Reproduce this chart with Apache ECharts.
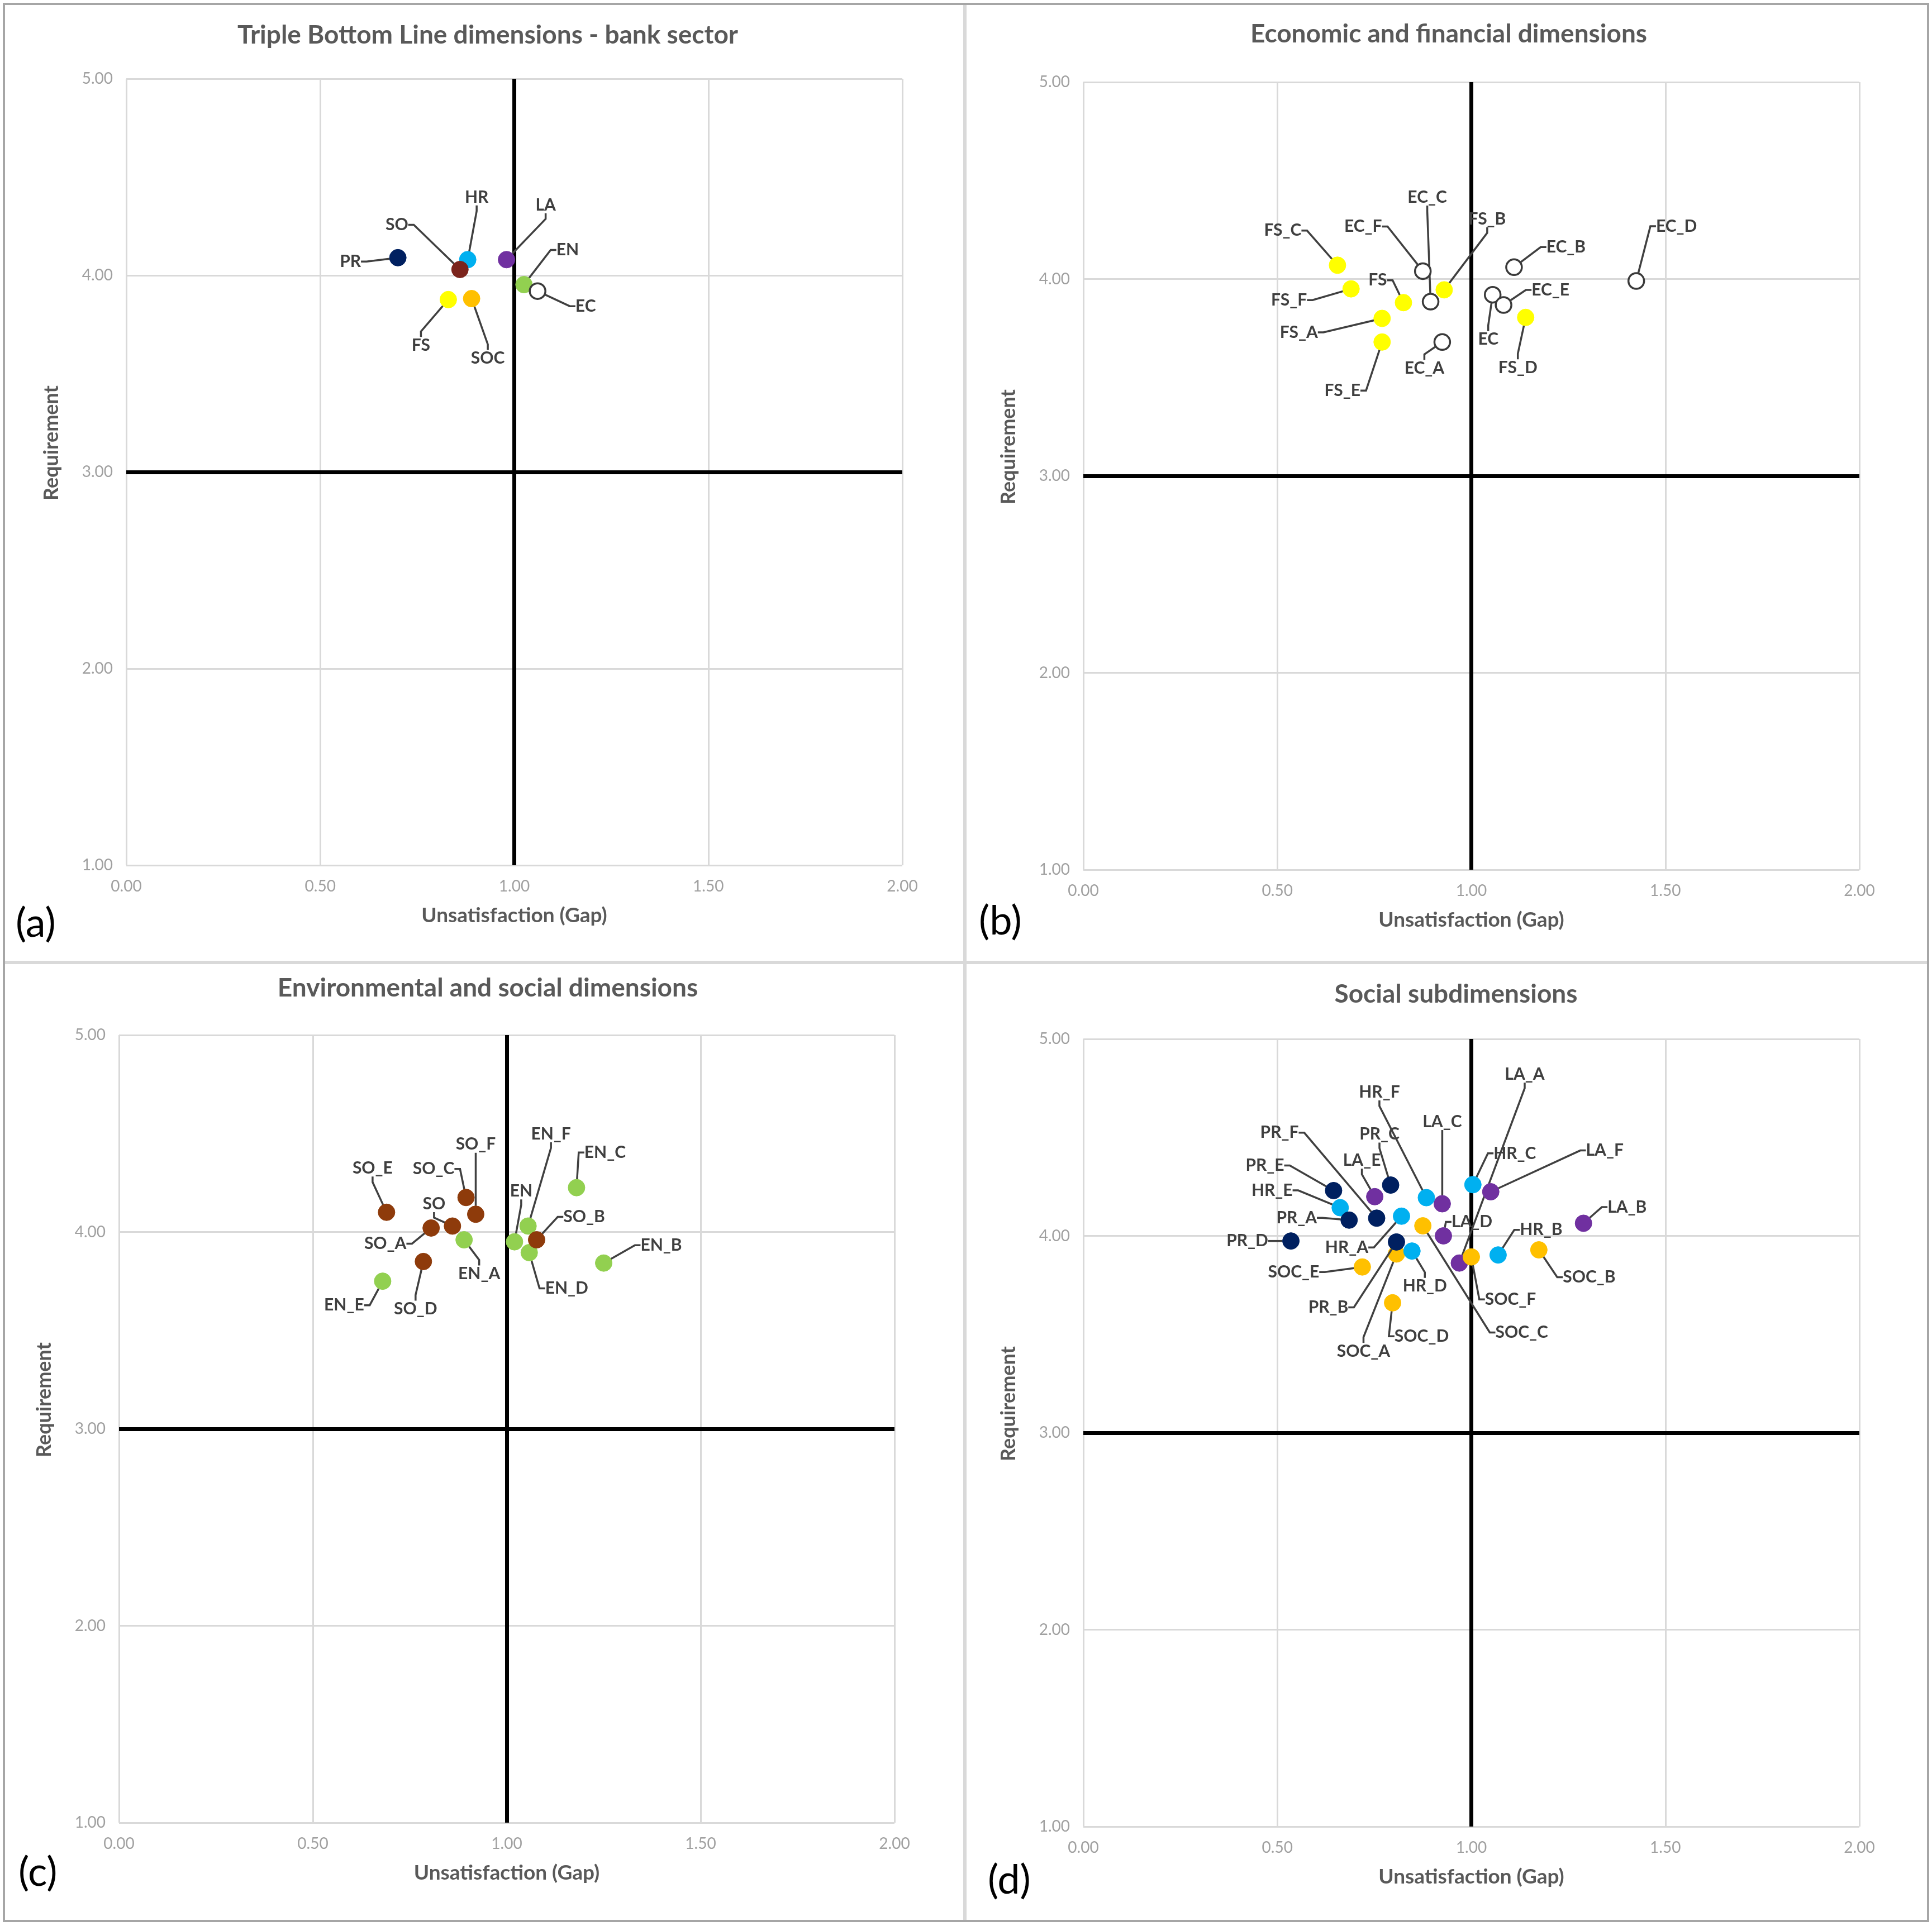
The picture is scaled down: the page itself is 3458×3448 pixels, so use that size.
<!DOCTYPE html>
<html>
<head>
<meta charset="utf-8">
<script src="https://cdn.jsdelivr.net/npm/echarts@6/dist/echarts.min.js"></script>
<style>
html,body{margin:0;padding:0;background:#ffffff;}
#chart{width:3458px;height:3448px;}
</style>
</head>
<body>
<div id="chart"></div>
<script>
// ---------- axis ticks & reference lines ----------
const xTicks = [0, 0.5, 1, 1.5, 2];
const yTicks = [1, 2, 3, 4, 5];
const gapThreshold = 1.0;
const reqThreshold = 3.0;

// ---------- texts ----------
const panelTitles = [
  'Triple Bottom Line dimensions - bank sector',
  'Economic and financial dimensions',
  'Environmental and social dimensions',
  'Social subdimensions'
];
const panelTags = ['(a)', '(b)', '(c)', '(d)'];
const xAxisTitle = 'Unsatisfaction (Gap)';
const yAxisTitle = 'Requirement';

// ---------- panel (a) ----------
const aNames = ['PR', 'HR', 'SO', 'LA', 'EN', 'EC', 'FS', 'SOC'];
const aGap   = [0.70, 0.88, 0.86, 0.98, 1.025, 1.06, 0.83, 0.89];
const aReq   = [4.09, 4.08, 4.03, 4.08, 3.953, 3.92, 3.877, 3.882];

// ---------- panel (b) ----------
const bNames = ['FS_C', 'FS_F', 'FS', 'FS_A', 'FS_E', 'FS_B', 'FS_D',
                'EC_F', 'EC_C', 'EC_A', 'EC_B', 'EC', 'EC_E', 'EC_D'];
const bGap   = [0.655, 0.69, 0.825, 0.77, 0.77, 0.93, 1.14,
                0.875, 0.895, 0.925, 1.11, 1.055, 1.083, 1.425];
const bReq   = [4.07, 3.95, 3.88, 3.80, 3.68, 3.945, 3.805,
                4.04, 3.885, 3.68, 4.06, 3.92, 3.868, 3.99];

// ---------- panel (c) ----------
const cNames = ['EN_A', 'EN_E', 'EN', 'EN_F', 'EN_D', 'EN_C', 'EN_B',
                'SO_E', 'SO_C', 'SO_F', 'SO', 'SO_A', 'SO_D', 'SO_B'];
const cGap   = [0.89, 0.68, 1.02, 1.055, 1.058, 1.18, 1.25,
                0.69, 0.895, 0.92, 0.86, 0.805, 0.785, 1.077];
const cReq   = [3.96, 3.75, 3.95, 4.03, 3.895, 4.225, 3.842,
                4.10, 4.175, 4.09, 4.03, 4.02, 3.85, 3.96];

// ---------- panel (d) ----------
const dNames = ['PR_E', 'PR_A', 'PR_F', 'PR_C', 'PR_D', 'PR_B',
                'HR_E', 'HR_A', 'HR_F', 'HR_C', 'HR_D', 'HR_B',
                'LA_E', 'LA_C', 'LA_F', 'LA_B', 'LA_D', 'LA_A',
                'SOC_C', 'SOC_A', 'SOC_E', 'SOC_D', 'SOC_F', 'SOC_B'];
const dGap   = [0.645, 0.685, 0.756, 0.792, 0.535, 0.807,
                0.662, 0.82, 0.884, 1.004, 0.847, 1.069,
                0.751, 0.925, 1.05, 1.289, 0.928, 0.969,
                0.875, 0.807, 0.719, 0.797, 1.00, 1.174];
const dReq   = [4.23, 4.08, 4.09, 4.258, 3.974, 3.969,
                4.143, 4.10, 4.194, 4.26, 3.923, 3.903,
                4.199, 4.163, 4.224, 4.064, 4.00, 3.862,
                4.051, 3.908, 3.842, 3.66, 3.893, 3.929];

// ---------- styling (not data) ----------
const groupColors = {
  PR: '#002060', HR: '#00B0F0', LA: '#7030A0', EN: '#92D050',
  FS: '#FFFF00', SOC: '#FFC000', EC: null
};
const soColorA = '#7B241C';
const soColorC = '#8E3B0B';

// label displacement (pixels) from each marker, styling only
const offA = {PR:[-85,7], SO:[-113,-80], HR:[16,-112], LA:[70,-98], EN:[78,-62], EC:[86,27], FS:[-49,82], SOC:[29,107]};
const offB = {FS_C:[-98,-62], FS_F:[-111,20], FS:[-46,-40], FS_A:[-149,25], FS_E:[-71,87], EC_F:[-107,-80], EC_C:[-6,-187],
  FS_B:[77,-127], EC_A:[-32,47], EC_B:[93,-36], EC:[-8,80], EC_E:[84,-27], FS_D:[-14,90], EC_D:[72,-98]};
const offC = {SO_E:[-25,-79], SO_C:[-58,-51], SO_F:[0,-125], SO:[-33,-40], SO_A:[-82,28], EN_A:[27,61], SO_D:[-14,85],
  EN_E:[-69,43], EN:[12,-91], EN_F:[41,-165], SO_B:[85,-41], EN_D:[67,64], EN_C:[51,-63], EN_B:[103,-32]};
const offD = {PR_E:[-123,-45], HR_E:[-122,-31], PR_A:[-94,-4], PR_F:[-174,-153], LA_E:[-23,-65], PR_C:[-20,-91],
  HR_A:[-98,56], HR_F:[-84,-189], LA_C:[0,-147], HR_C:[75,-56], LA_F:[204,-74], LA_B:[78,-29], SOC_C:[177,191],
  LA_D:[51,-25], PR_D:[-78,0], PR_B:[-122,117], SOC_A:[-59,174], SOC_E:[-123,9], SOC_D:[52,60], SOC_F:[70,76],
  SOC_B:[90,49], LA_A:[117,-338], HR_D:[23,63], HR_B:[77,-45]};

const grids = [
  {left: 226, top: 141, width: 1389, height: 1408},
  {left: 1939, top: 147, width: 1389, height: 1410},
  {left: 213, top: 1853, width: 1388, height: 1410},
  {left: 1939, top: 1860, width: 1389, height: 1410}
];
const titlePos = [[868, 35], [2588, 33], [868, 1741], [2601, 1752]];
const tagPos = [[28, 1654], [1752, 1650], [33, 3353], [1768, 3367]];

const FONT = 'Lato';

function buildPanel(p, names, gap, req, order, colors, offsets) {
  const groups = {};
  names.forEach((n, i) => {
    const g = n.split('_')[0];
    (groups[g] = groups[g] || []).push({name: n, value: [gap[i], req[i]]});
  });
  const out = [];
  order.filter(g => groups[g]).forEach((g, k) => {
    const items = groups[g];
    const s = {
      type: 'scatter', name: g, xAxisIndex: p, yAxisIndex: p,
      data: items, symbol: 'circle',
      symbolSize: g === 'EC' ? 28 : 30,
      itemStyle: g === 'EC'
        ? {color: '#ffffff', borderColor: '#3a3a3a', borderWidth: 3.5, opacity: 1}
        : {color: colors[g], borderColor: colors[g], borderWidth: 1, opacity: 1},
      label: {show: true, position: 'inside', formatter: '{b}', fontFamily: FONT,
              fontWeight: 'bold', fontSize: 30, color: '#3f3f3f'},
      labelLine: {show: true, length2: 10, smooth: false,
                  lineStyle: {color: '#404040', width: 3.5}},
      labelLayout: function (params) {
        const it = items[params.dataIndex];
        const o = it && offsets[it.name];
        return o ? {dx: o[0], dy: o[1]} : {};
      },
      emphasis: {disabled: true},
      z: 3 + k
    };
    if (k === 0) {
      s.markLine = {
        silent: true, symbol: ['none', 'none'], label: {show: false},
        lineStyle: {color: '#000000', width: 7, type: 'solid'},
        emphasis: {disabled: true},
        data: [{xAxis: gapThreshold}, {yAxis: reqThreshold}],
        z: 1
      };
    }
    out.push(s);
  });
  return out;
}

const series = [].concat(
  buildPanel(0, aNames, aGap, aReq, ['PR', 'HR', 'SO', 'LA', 'EN', 'EC', 'FS', 'SOC'],
             Object.assign({}, groupColors, {SO: soColorA}), offA),
  buildPanel(1, bNames, bGap, bReq, ['FS', 'EC'], groupColors, offB),
  buildPanel(2, cNames, cGap, cReq, ['EN', 'SO'], Object.assign({}, groupColors, {SO: soColorC}), offC),
  buildPanel(3, dNames, dGap, dReq, ['LA', 'SOC', 'HR', 'PR'], groupColors, offD)
);

const xAxes = grids.map((g, i) => ({
  gridIndex: i, type: 'value',
  min: xTicks[0], max: xTicks[xTicks.length - 1], interval: xTicks[1] - xTicks[0],
  name: xAxisTitle, nameLocation: 'middle', nameGap: 72,
  nameTextStyle: {fontFamily: FONT, fontWeight: 'bold', fontSize: 37, color: '#595959'},
  axisLine: {show: false}, axisTick: {show: false},
  axisLabel: {formatter: v => v.toFixed(2), fontFamily: FONT, fontSize: 28, color: '#a0a0a0', margin: 24},
  splitLine: {show: true, lineStyle: {color: '#d9d9d9', width: 3}}
}));
const yAxes = grids.map((g, i) => ({
  gridIndex: i, type: 'value',
  min: yTicks[0], max: yTicks[yTicks.length - 1], interval: yTicks[1] - yTicks[0],
  name: yAxisTitle, nameLocation: 'middle', nameGap: 116,
  nameTextStyle: {fontFamily: FONT, fontWeight: 'bold', fontSize: 36, color: '#595959', padding: [0, 0, 0, 104]},
  axisLine: {show: false}, axisTick: {show: false},
  axisLabel: {formatter: v => v.toFixed(2), fontFamily: FONT, fontSize: 28, color: '#a0a0a0', margin: 24},
  splitLine: {show: true, lineStyle: {color: '#d9d9d9', width: 3}}
}));

const graphic = [
  {type: 'rect', silent: true, z: 0, shape: {x: 7, y: 7, width: 3444, height: 3432},
   style: {fill: 'none', stroke: '#a6a6a6', lineWidth: 4}},
  {type: 'line', silent: true, z: 0, shape: {x1: 1727, y1: 9, x2: 1727, y2: 3437},
   style: {stroke: '#d9d9d9', lineWidth: 6}},
  {type: 'line', silent: true, z: 0, shape: {x1: 9, y1: 1723, x2: 3449, y2: 1723},
   style: {stroke: '#d9d9d9', lineWidth: 6}}
].concat(panelTags.map((t, i) => ({
  type: 'text', silent: true, x: tagPos[i][0], y: tagPos[i][1],
  style: {text: t, fontFamily: FONT, fontSize: 72, fill: '#000000', verticalAlign: 'middle', align: 'left'}
})));

const chart = echarts.init(document.getElementById('chart'), null, {renderer: 'canvas'});
chart.setOption({
  animation: false,
  backgroundColor: '#ffffff',
  title: panelTitles.map((t, i) => ({
    text: t, left: titlePos[i][0], top: titlePos[i][1], textAlign: 'center',
    textStyle: {fontFamily: FONT, fontWeight: 'bold', fontSize: 46, color: '#595959'}
  })),
  grid: grids.map(g => Object.assign({containLabel: false, outerBoundsMode: 'none'}, g)),
  xAxis: xAxes,
  yAxis: yAxes,
  legend: {show: false},
  tooltip: {show: false},
  graphic: graphic,
  series: series
});
</script>
</body>
</html>
